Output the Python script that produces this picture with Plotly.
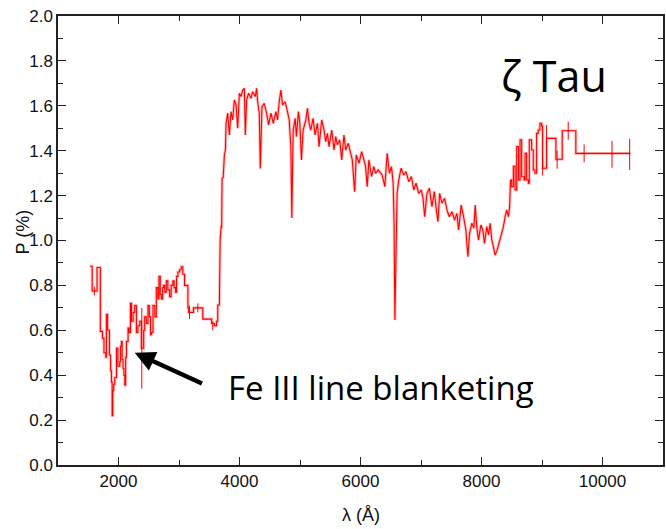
import plotly.graph_objects as go

# --- UV (binned, step) part of the spectrum ---
uv_wl = [1527, 1565, 1645, 1700, 1735, 1760, 1790, 1800, 1820, 1850, 1870, 1884, 1895, 1905,
         1920, 1939, 1967, 1990, 2021, 2035, 2049, 2060, 2076, 2090, 2104, 2118, 2131, 2158,
         2175, 2197, 2215, 2241, 2268, 2296, 2320, 2351, 2378, 2416, 2433, 2460, 2488, 2510,
         2530, 2543, 2570, 2600, 2625, 2650, 2669, 2690, 2708, 2730, 2746, 2765, 2790, 2815,
         2845, 2870, 2899, 2920, 2943, 2960, 2982, 3010, 3037, 3064, 3092, 3147, 3160, 3240,
         3339, 3393, 3503, 3540, 3586, 3620, 3640, 3668]
uv_p = [0.885, 0.775, 0.88, 0.595, 0.565, 0.50, 0.48, 0.67, 0.60, 0.49, 0.42, 0.37, 0.22, 0.33,
        0.36, 0.39, 0.52, 0.44, 0.46, 0.53, 0.55, 0.47, 0.43, 0.40, 0.356, 0.48, 0.55, 0.61,
        0.59, 0.72, 0.64, 0.68, 0.71, 0.59, 0.62, 0.64, 0.52, 0.60, 0.66, 0.63, 0.71, 0.66,
        0.58, 0.59, 0.71, 0.66, 0.79, 0.74, 0.84, 0.76, 0.74, 0.79, 0.80, 0.77, 0.82, 0.78,
        0.75, 0.80, 0.82, 0.79, 0.77, 0.84, 0.86, 0.87, 0.883, 0.85, 0.80, 0.70, 0.68, 0.70,
        0.70, 0.65, 0.65, 0.63, 0.62, 0.64, 0.713, 0.73]

# --- optical (high resolution) part ---
opt_wl = [3668, 3680, 3696, 3705, 3712, 3730, 3750, 3767, 3778, 3805, 3833, 3860, 3887, 3915,
          3943, 3970, 3998, 4025, 4052, 4080, 4096, 4118, 4151, 4190, 4217, 4261, 4283, 4300,
          4327, 4344, 4371, 4409, 4448, 4481, 4520, 4558, 4602, 4629, 4656, 4684, 4711, 4755,
          4793, 4821, 4849, 4865, 4887, 4920, 4941, 4974, 4997, 5024, 5052, 5096, 5123, 5150,
          5178, 5216, 5249, 5288, 5315, 5359, 5397, 5425, 5452, 5480, 5524, 5562, 5590, 5617,
          5656, 5689, 5727, 5755, 5798, 5837, 5864, 5903, 5930, 5974, 6019, 6056, 6084, 6111,
          6139, 6183, 6221, 6249, 6292, 6358, 6402, 6441, 6479, 6512, 6540, 6555, 6568, 6585,
          6605, 6633, 6671, 6715, 6753, 6797, 6841, 6880, 6918, 6962, 7006, 7033, 7061, 7099,
          7138, 7181, 7220, 7253, 7280, 7308, 7346, 7390, 7429, 7468, 7511, 7555, 7593, 7621,
          7665, 7703, 7742, 7775, 7802, 7841, 7874, 7896, 7923, 7951, 7989, 8022, 8049, 8088,
          8115, 8143, 8170, 8197, 8225, 8258, 8291, 8324, 8362, 8390, 8417, 8445, 8465, 8480]
opt_p = [0.73, 1.00, 1.061, 1.06, 1.277, 1.28, 1.381, 1.403, 1.522, 1.567, 1.470, 1.574, 1.537, 1.626,
         1.604, 1.500, 1.656, 1.641, 1.670, 1.678, 1.470, 1.626, 1.656, 1.633, 1.663, 1.641, 1.678, 1.618,
         1.567, 1.321, 1.596, 1.611, 1.567, 1.515, 1.567, 1.522, 1.574, 1.537, 1.618, 1.670, 1.604, 1.618,
         1.574, 1.537, 1.418, 1.10, 1.492, 1.544, 1.463, 1.574, 1.522, 1.359, 1.492, 1.537, 1.589, 1.522,
         1.492, 1.544, 1.470, 1.522, 1.418, 1.537, 1.492, 1.440, 1.477, 1.418, 1.492, 1.403, 1.463, 1.426,
         1.448, 1.359, 1.470, 1.403, 1.433, 1.396, 1.359, 1.217, 1.381, 1.344, 1.396, 1.359, 1.329, 1.240,
         1.359, 1.285, 1.329, 1.299, 1.314, 1.292, 1.240, 1.388, 1.299, 1.329, 1.255, 1.077, 0.646, 0.90,
         1.210, 1.270, 1.322, 1.292, 1.307, 1.262, 1.285, 1.225, 1.255, 1.210, 1.225, 1.188, 1.106, 1.210,
         1.233, 1.151, 1.218, 1.136, 1.084, 1.210, 1.166, 1.188, 1.136, 1.106, 1.128, 1.091, 1.121, 1.047,
         1.158, 1.106, 1.047, 0.928, 1.032, 1.077, 1.055, 1.158, 1.055, 1.002, 1.069, 1.047, 0.987, 1.062,
         1.025, 1.077, 1.002, 0.972, 0.935, 0.957, 0.987, 1.017, 1.062, 1.106, 1.136, 1.106, 1.151, 1.27]

# --- near-IR (binned, step) part ---
ir_wl = [8480, 8500, 8527, 8555, 8582, 8610, 8637, 8664, 8703, 8720, 8746, 8774, 8790, 8828,
         8856, 8884, 8911, 8938, 8966, 8993, 9010, 9076, 9230, 9334, 9559, 10449]
ir_p = [1.27, 1.24, 1.33, 1.225, 1.418, 1.27, 1.448, 1.284, 1.27, 1.388, 1.27, 1.255, 1.448, 1.403,
        1.314, 1.30, 1.477, 1.492, 1.522, 1.51, 1.322, 1.455, 1.362, 1.489, 1.388, 1.384]

# --- error bars on binned points ---
err_wl = [1600, 2385, 3174, 3311, 3558, 9010, 9076, 9250, 9433, 9696, 10157, 10449]
err_p = [0.775, 0.52, 0.68, 0.70, 0.62, 1.33, 1.47, 1.36, 1.489, 1.388, 1.384, 1.384]
err_v = [0.02, 0.18, 0.03, 0.02, 0.02, 0.04, 0.045, 0.04, 0.04, 0.04, 0.06, 0.07]

x_ticks = [2000, 4000, 6000, 8000, 10000]
y_ticks = [0.0, 0.2, 0.4, 0.6, 0.8, 1.0, 1.2, 1.4, 1.6, 1.8, 2.0]

RED = "#ff0000"
HALO = "rgba(255,0,0,0.25)"
fig = go.Figure()
# soft halo (error band look) under the spectrum
for xs, ys, shp in [(uv_wl, uv_p, "hv"), (opt_wl, opt_p, "linear"), (ir_wl, ir_p, "hv")]:
    fig.add_trace(go.Scatter(x=xs, y=ys, mode="lines", line=dict(color=HALO, width=3, shape=shp),
                             showlegend=False, hoverinfo="skip"))
for xs, ys, shp in [(uv_wl, uv_p, "hv"), (opt_wl, opt_p, "linear"), (ir_wl, ir_p, "hv")]:
    fig.add_trace(go.Scatter(x=xs, y=ys, mode="lines", line=dict(color=RED, width=1.1, shape=shp),
                             showlegend=False, hoverinfo="skip"))
fig.add_trace(go.Scatter(x=err_wl, y=err_p, mode="markers", marker=dict(size=1, color=RED),
                         error_y=dict(type="data", array=err_v, color=RED, thickness=1, width=0),
                         showlegend=False, hoverinfo="skip"))

AX = "#222222"
fig.update_xaxes(range=[1000, 11000], tickvals=x_ticks, ticktext=[str(v) for v in x_ticks],
                 ticks="inside", ticklen=8, tickwidth=1, tickcolor=AX,
                 minor=dict(dtick=1000, tick0=1000, ticks="inside", ticklen=5, tickcolor=AX, tickwidth=1),
                 showline=True, linecolor=AX, linewidth=1.5, mirror="allticks",
                 showgrid=False, zeroline=False,
                 tickfont=dict(family="Liberation Sans, Arial", size=17, color="#111111"))
fig.update_yaxes(range=[0, 2.0], tickvals=y_ticks, ticktext=[f"{v:.1f}" for v in y_ticks],
                 ticks="inside", ticklen=8, tickwidth=1, tickcolor=AX,
                 minor=dict(dtick=0.1, tick0=0, ticks="inside", ticklen=5, tickcolor=AX, tickwidth=1),
                 showline=True, linecolor=AX, linewidth=1.5, mirror="allticks",
                 showgrid=False, zeroline=False,
                 tickfont=dict(family="Liberation Sans, Arial", size=17, color="#111111"))

fig.add_annotation(text="λ (Å)", xref="paper", yref="paper", x=0.5, y=0, yshift=-50,
                   showarrow=False, yanchor="middle",
                   font=dict(family="Liberation Sans, Arial", size=18, color="#111111"))
fig.add_annotation(text="P (%)", xref="paper", yref="paper", x=0, y=0.5, xshift=-36, yshift=8,
                   textangle=-90, showarrow=False, xanchor="center",
                   font=dict(family="Liberation Sans, Arial", size=18, color="#111111"))
fig.add_annotation(text="ζ Tau", xref="x", yref="y", x=9200, y=1.735, showarrow=False,
                   font=dict(family="Open Sans", size=43, color="black"))
fig.add_annotation(text="Fe III line blanketing", xref="x", yref="y", x=3783, y=0.345,
                   xanchor="left", showarrow=False,
                   font=dict(family="Open Sans", size=33, color="black"))
fig.add_annotation(x=2268, y=0.50, ax=3405, ay=0.36, xref="x", yref="y", axref="x", ayref="y",
                   text="", showarrow=True, arrowhead=2, arrowsize=0.9, arrowwidth=4.5,
                   arrowcolor="black")

fig.update_layout(width=666, height=529, margin=dict(l=58, r=1, t=16, b=64),
                  plot_bgcolor="white", paper_bgcolor="white")
fig.write_html("out.html", config={"displayModeBar": False},
               post_script="document.body.style.margin='0px';")
